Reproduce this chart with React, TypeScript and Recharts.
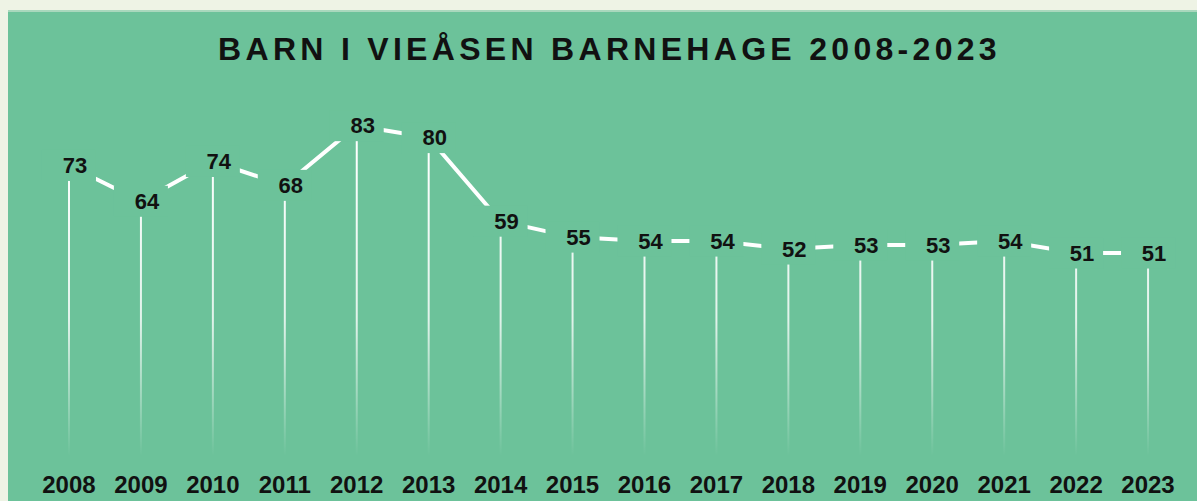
import React from "react";
import { ComposedChart, Bar, Line, XAxis, YAxis, LabelList } from "recharts";

const years = [
  "2008", "2009", "2010", "2011", "2012", "2013", "2014", "2015",
  "2016", "2017", "2018", "2019", "2020", "2021", "2022", "2023",
];
const children = [73, 64, 74, 68, 83, 80, 59, 55, 54, 54, 52, 53, 53, 54, 51, 51];

const GREEN = "#6cc29a";
const FONT = "'Liberation Sans', Arial, sans-serif";

const data = years.map((year, i) => ({ year, value: children[i] }));

function PointLabel(props: any) {
  const { x, y, value } = props;
  if (x == null || y == null) return null;
  return (
    <g>
      <rect x={x - 27} y={y - 15.5} width={54} height={31} fill={GREEN} />
      <text
        x={x + 6}
        y={y}
        textAnchor="middle"
        dominantBaseline="central"
        fontFamily={FONT}
        fontWeight={700}
        fontSize={22}
        fill="#111"
      >
        {value}
      </text>
    </g>
  );
}

function YearTick(props: any) {
  const { x, y, payload } = props;
  return (
    <text
      x={x}
      y={y + 20}
      textAnchor="middle"
      dominantBaseline="central"
      fontFamily={FONT}
      fontWeight={700}
      fontSize={24}
      fill="#111"
    >
      {payload.value}
    </text>
  );
}

export default function App() {
  return (
    <div
      style={{
        position: "absolute",
        left: 0,
        top: 0,
        width: 1197,
        height: 501,
        background: "#eef3e5",
        overflow: "hidden",
      }}
    >
      <svg width={0} height={0} style={{ position: "absolute" }}>
        <defs>
          <linearGradient id="dropFade" gradientUnits="userSpaceOnUse" x1={0} y1={150} x2={0} y2={456}>
            <stop offset="0" stopColor="#fff" stopOpacity={1} />
            <stop offset="0.55" stopColor="#fff" stopOpacity={0.8} />
            <stop offset="1" stopColor="#fff" stopOpacity={0} />
          </linearGradient>
        </defs>
      </svg>
      <div
        style={{
          position: "absolute",
          left: 8,
          top: 10,
          width: 1189,
          height: 491,
          background: GREEN,
          borderTop: "2px solid #a9d8bd",
          boxSizing: "border-box",
        }}
      />
      <div
        style={{
          position: "absolute",
          left: 0,
          top: 33,
          width: 1215,
          paddingLeft: 4,
          boxSizing: "border-box",
          textAlign: "center",
          fontFamily: FONT,
          fontWeight: 700,
          fontSize: 32,
          lineHeight: 1,
          letterSpacing: 4.3,
          color: "#111",
          whiteSpace: "nowrap",
        }}
      >
        BARN I VIEÅSEN BARNEHAGE 2008-2023
      </div>
      <div style={{ position: "absolute", left: 0, top: 0 }}>
        <ComposedChart
          width={1197}
          height={501}
          data={data}
          margin={{ top: 58, right: 13, bottom: 0, left: 33 }}
        >
          <XAxis
            dataKey="year"
            axisLine={false}
            tickLine={false}
            height={45}
            interval={0}
            tick={<YearTick />}
          />
          <YAxis hide domain={[0, 100]} />
          <Bar dataKey="value" barSize={2} fill="url(#dropFade)" isAnimationActive={false} />
          <Line
            type="linear"
            dataKey="value"
            stroke="#fff"
            strokeWidth={4}
            dot={false}
            activeDot={false}
            isAnimationActive={false}
          >
            <LabelList dataKey="value" content={<PointLabel />} />
          </Line>
        </ComposedChart>
      </div>
    </div>
  );
}
